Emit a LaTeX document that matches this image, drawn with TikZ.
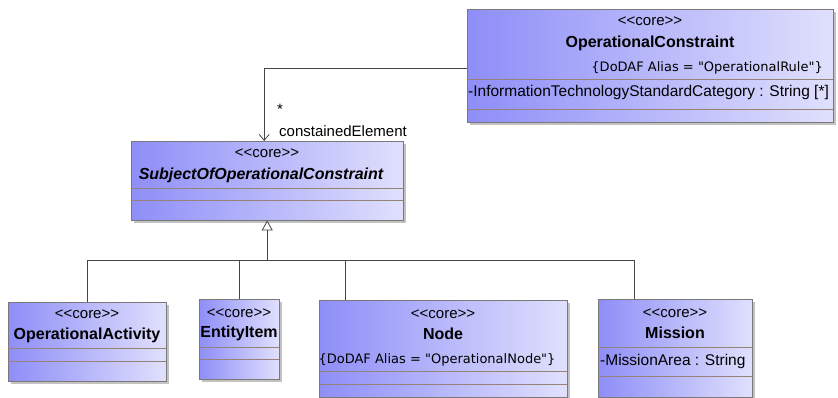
\documentclass[tikz,border=0pt]{standalone}
\usepackage{fontspec}
\setmainfont{Liberation Sans}
\newfontfamily\aliasfont{DejaVu Sans}
\usepackage{xcolor}
\usetikzlibrary{arrows.meta, positioning, shadows}
\definecolor{umlleft}{RGB}{142,142,248}
\definecolor{umlright}{RGB}{224,224,253}
\definecolor{boxline}{RGB}{122,120,120}
\definecolor{divline}{RGB}{150,130,120}
\definecolor{linkgray}{RGB}{70,70,70}
\newcommand{\corestereo}{<\kern0pt<core>\kern0pt>}

\begin{document}
\begin{tikzpicture}[x=1pt, y=-1pt,
    umlclass/.style={rectangle, draw=boxline, left color=umlleft, right color=umlright, anchor=north west, inner sep=0pt, drop shadow={shadow xshift=3pt, shadow yshift=-3pt, fill=black!40, opacity=0.6}},
    stereo/.style={inner sep=0pt, font=\fontsize{15}{17}\selectfont},
    classname/.style={inner sep=0pt, font=\fontsize{16}{18}\selectfont\bfseries},
    abstractname/.style={inner sep=0pt, font=\fontsize{16}{18}\selectfont\bfseries\itshape},
    alias/.style={inner sep=0pt, font=\aliasfont\fontsize{13}{15}\selectfont},
    attr/.style={inner sep=0pt, anchor=west, font=\fontsize{15.5}{17}\selectfont},
    rolename/.style={inner sep=0pt, font=\fontsize{15}{17}\selectfont},
    divider/.style={draw=divline},
    link/.style={draw=linkgray, line width=0.8pt},
    assoc/.style={link, -{Straight Barb[length=6pt, width=10pt]}},
    inherit/.style={link, -{Triangle[open, length=10pt, width=11pt, fill=white]}}
]
\useasboundingbox (0,0) rectangle (838,398);

% class boxes
\node[umlclass, minimum width=366, minimum height=113] (oc) at (467,9) {};
\node[umlclass, minimum width=272, minimum height=79] (subj) at (131,141) {};
\node[umlclass, minimum width=158, minimum height=79] (activity) at (8,302) {};
\node[umlclass, minimum width=80, minimum height=80] (entity) at (199,299) {};
\node[umlclass, minimum width=248, minimum height=97] (opnode) at (319,300) {};
\node[umlclass, minimum width=154, minimum height=98] (mission) at (598,299) {};

% compartments
\draw[divider] (oc.west |- 0,79) -- (oc.east |- 0,79);
\draw[divider] (oc.west |- 0,109) -- (oc.east |- 0,109);
\draw[divider] (subj.west |- 0,188) -- (subj.east |- 0,188);
\draw[divider] (subj.west |- 0,200) -- (subj.east |- 0,200);
\draw[divider] (activity.west |- 0,348) -- (activity.east |- 0,348);
\draw[divider] (activity.west |- 0,361) -- (activity.east |- 0,361);
\draw[divider] (entity.west |- 0,347) -- (entity.east |- 0,347);
\draw[divider] (entity.west |- 0,359) -- (entity.east |- 0,359);
\draw[divider] (opnode.west |- 0,371) -- (opnode.east |- 0,371);
\draw[divider] (opnode.west |- 0,384) -- (opnode.east |- 0,384);
\draw[divider] (mission.west |- 0,347) -- (mission.east |- 0,347);
\draw[divider] (mission.west |- 0,376) -- (mission.east |- 0,376);

% texts
\node[stereo] (ocstereo) at (650,21) {\corestereo};
\node[classname] (ocname) at (650,43) {OperationalConstraint};
\node[alias, anchor=east] (ocalias) at (823,68) {\{DoDAF Alias = "OperationalRule"\}};
\node[attr] (ocattr) at (468,92) {-InformationTechnologyStandardCategory : String [*]};

\node[stereo] (subjstereo) at (267,153) {\corestereo};
\node[abstractname] (subjname) at (261,175) {SubjectOfOperationalConstraint};

\node[stereo] (activitystereo) at (87,314) {\corestereo};
\node[classname] (activityname) at (87,335) {OperationalActivity};

\node[stereo] (entitystereo) at (239,313) {\corestereo};
\node[classname] (entityname) at (239,333) {EntityItem};

\node[stereo] (opnodestereo) at (443,314) {\corestereo};
\node[classname] (opnodename) at (443,334) {Node};
\node[alias] (opnodealias) at (437,360) {\{DoDAF Alias = "OperationalNode"\}};

\node[stereo] (missionstereo) at (675,313) {\corestereo};
\node[classname] (missionname) at (675,333) {Mission};
\node[attr] (missionattr) at (600,361) {-MissionArea : String};

% association
\draw[assoc] (oc.west |- 0,68) -| ([xshift=-3pt]subj.north);
\node[rolename, anchor=base west] (mult) at (277,115) {*};
\node[rolename, anchor=base west] (role) at (279,137) {constainedElement};

% generalization
\coordinate (fork) at (subj.south |- 0,260);
\draw[inherit] (fork) -- (subj.south);
\draw[link] (activity.north) |- (fork);
\draw[link] (entity.north) |- (fork);
\draw[link] ([xshift=-98pt]opnode.north) |- (fork);
\draw[link] ([xshift=-41pt]mission.north) |- (fork);
\end{tikzpicture}
\end{document}
